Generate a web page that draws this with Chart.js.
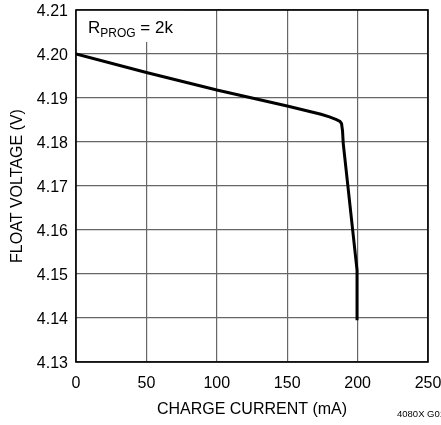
<!DOCTYPE html>
<html>
<head>
<meta charset="utf-8">
<script src="https://cdn.jsdelivr.net/npm/chart.js@4.4.1/dist/chart.umd.min.js"></script>
<style>
  html, body { margin: 0; padding: 0; background: #fff; }
  #wrap { width: 441px; height: 425px; }
</style>
</head>
<body>
<div id="wrap"><canvas id="floatChart"></canvas></div>
<script>
// charge current (mA) vs float voltage (V)
const chargeCurrent = [0, 50, 100, 150, 174, 180, 185, 187.5, 188.6, 189.3, 189.8, 199.6, 199.6];
const floatVoltage = [4.2000, 4.1958, 4.1918, 4.1882, 4.1863, 4.1857, 4.1851, 4.1847, 4.1842, 4.1825, 4.1797, 4.1509, 4.1395];
const xTicks = [0, 50, 100, 150, 200, 250];
const yTicks = [4.13, 4.14, 4.15, 4.16, 4.17, 4.18, 4.19, 4.20, 4.21];

const fontFam = "'Liberation Sans Narrow', 'Liberation Sans', Arial, sans-serif";
Chart.defaults.font.family = fontFam;
Chart.defaults.color = "#000";

// label box + frame + figure code
const extras = {
  id: "extras",
  beforeDatasetsDraw(chart) {
    const ctx = chart.ctx;
    const a = chart.chartArea;
    ctx.save();
    ctx.fillStyle = "#fff";
    ctx.fillRect(a.left, a.top, 108, 32);
    ctx.fillStyle = "#000";
    ctx.textBaseline = "alphabetic";
    ctx.font = "17px " + fontFam;
    ctx.fillText("R", a.left + 12, a.top + 23);
    let w = ctx.measureText("R").width;
    ctx.font = "12px " + fontFam;
    ctx.fillText("PROG", a.left + 12 + w, a.top + 27);
    w += ctx.measureText("PROG").width;
    ctx.font = "17px " + fontFam;
    ctx.fillText(" = 2k", a.left + 12 + w, a.top + 23);
    ctx.restore();
  },
  afterDatasetsDraw(chart) {
    const ctx = chart.ctx;
    const a = chart.chartArea;
    ctx.save();
    ctx.strokeStyle = "#000";
    ctx.lineWidth = 1.6;
    ctx.strokeRect(a.left, a.top, a.right - a.left, a.bottom - a.top);
    ctx.font = "9.5px " + fontFam;
    ctx.fillStyle = "#000";
    ctx.textBaseline = "middle";
    ctx.fillText("4080X G01", 397, 414);
    ctx.restore();
  }
};

const floatChart = document.getElementById("floatChart");

new Chart(floatChart, {
  type: "line",
  data: {
    datasets: [
      {
        data: chargeCurrent.map((c, i) => ({ x: c, y: floatVoltage[i] })),
        borderColor: "#000",
        borderWidth: 3,
        pointRadius: 0,
        fill: false,
        tension: 0,
      },
    ],
  },
  options: {
    responsive: true,
    maintainAspectRatio: false,
    animation: false,
    layout: { padding: { top: 10, right: 13, left: 0, bottom: 0 } },
    plugins: { legend: { display: false }, tooltip: { enabled: false } },
    scales: {
      x: {
        type: "linear",
        min: 0,
        max: 250,
        afterBuildTicks: (s) => { s.ticks = xTicks.map((v) => ({ value: v })); },
        afterFit: (s) => { s.height = 63; s.paddingLeft = 0; s.paddingRight = 0; },
        ticks: { font: { size: 16 }, padding: 12, maxRotation: 0 },
        grid: { color: "#666", lineWidth: 1.2, drawTicks: false },
        border: { display: false },
        title: { display: true, text: "CHARGE CURRENT (mA)", font: { size: 16 }, padding: { top: 0, bottom: 6 } },
      },
      y: {
        type: "linear",
        min: 4.13,
        max: 4.21,
        afterBuildTicks: (s) => { s.ticks = yTicks.map((v) => ({ value: v })); },
        afterFit: (s) => { s.width = 76; s.paddingTop = 0; s.paddingBottom = 0; },
        ticks: { font: { size: 16 }, padding: 8, labelOffset: 2, callback: (v) => v.toFixed(2) },
        grid: { color: "#666", lineWidth: 1.2, drawTicks: false },
        border: { display: false },
        title: { display: true, text: "FLOAT VOLTAGE (V)", font: { size: 16 }, padding: { top: 8, bottom: 0 } },
      },
    },
  },
  plugins: [extras],
});
</script>
</body>
</html>
